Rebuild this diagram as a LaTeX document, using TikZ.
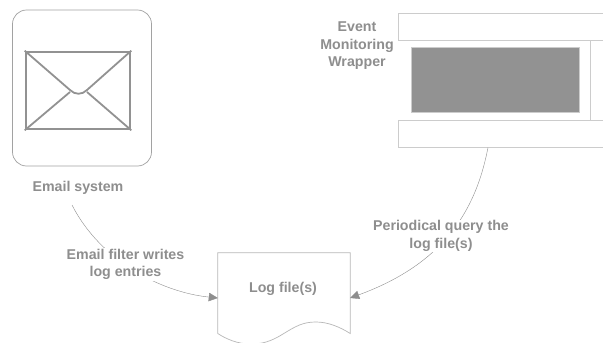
\documentclass[tikz,border=0pt]{standalone}
\usepackage{fontspec}
\setmainfont{Liberation Sans}
\usetikzlibrary{arrows.meta,positioning}
\definecolor{labelgray}{HTML}{8E8E8E}
\definecolor{iconsgray}{HTML}{929292}
\definecolor{framegray}{HTML}{CCCCCC}
\tikzset{
    %Define standard arrow tip
    >={Triangle[length=9pt,width=8.5pt]},
    % Define arrow style
    pil/.style={
           ->,
           draw=labelgray,
           line width=0.4pt,},
    % Define text style
    lbl/.style={
           text=labelgray,
           font=\fontsize{14.2}{17.5}\selectfont\bfseries,
           align=center,
           inner sep=1pt,},
}
\begin{document}
\begin{tikzpicture}[
x=1pt,y=-1pt,
framebox/.style={draw=framegray, line width=0.8pt},
envline/.style={draw=iconsgray, line width=1.8pt},
]
\clip (0,0) rectangle (603,343);
\fill[white] (0,0) rectangle (603,343);

%Email system
\node[draw=iconsgray!85, line width=0.7pt, rounded corners=14pt, minimum width=139pt, minimum height=156pt, inner sep=0pt](mailbox) at (82,88){};
\node[draw=iconsgray, line width=2.6pt, minimum width=104pt, minimum height=77pt, inner sep=0pt](envelope) at (78,90.5){};
\draw[envline] (envelope.north west) -- (70,90) .. controls (75,95) and (82,95) .. (87,90) -- (envelope.north east);
\draw[envline] (envelope.south west) -- (70,92);
\draw[envline] (envelope.south east) -- (87,92);
\node[lbl](maillabel) at (78,187.5){Email system};

%Event Monitoring Wrapper
\node[framebox, minimum width=220pt, minimum height=27pt, inner sep=0pt](wraptop) at (508,26.7){};
\node[framebox, minimum width=220pt, minimum height=27pt, inner sep=0pt](wrapbottom) at (508,133.5){};
\draw[framegray, line width=0.8pt] (wraptop.south east -| 590.5,0) -- (590.5,120);
\node[fill=iconsgray, draw=framegray, line width=0.5pt, minimum width=168pt, minimum height=65pt, inner sep=0pt](wrapcore) at (495,79.5){};
\node[lbl](wraplabel) at (357,46){Event\\Monitoring\\Wrapper};

%Log file
\node[minimum width=132pt, minimum height=90pt, inner sep=0pt](logfile) at (284,298){};
\draw[framegray!90!black, line width=0.7pt] (logfile.west |- 0,333.5) -- (logfile.north west) -- (logfile.north east) -- (logfile.east |- 0,333.5)
  .. controls (340,327) and (328,322) .. (316,322) .. controls (303,322) and (296,326) .. (283,334)
  .. controls (270,342) and (262,344) .. (250,344) .. controls (238,344) and (226,339) .. (logfile.west |- 0,333.5);
\node[lbl] at (283,288.5){Log file(s)};

%Connectors
\coordinate (mailstart) at (72,205);
\coordinate (wrapstart) at (488,147.5);
\draw[pil] (mailstart) .. controls (100,260) and (160,292) .. (logfile.west);
\draw[pil] (wrapstart) .. controls (475,215) and (440,265) .. (logfile.east);

%Labels on the connectors
\node[lbl, fill=white](filterlabel) at (125.5,264.5){Email filter writes\\log entries};
\node[lbl, fill=white](querylabel) at (441,236){Periodical query the\\log file(s)};

\end{tikzpicture}
\end{document}
